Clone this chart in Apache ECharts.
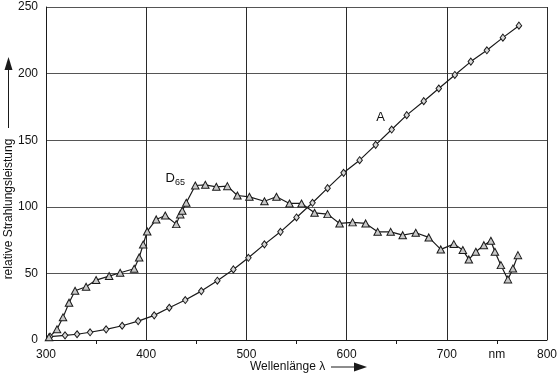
<!DOCTYPE html>
<html>
<head>
<meta charset="utf-8">
<script src="https://cdn.jsdelivr.net/npm/echarts@6/dist/echarts.min.js"></script>
<style>html,body{margin:0;padding:0;background:#fff}#c{width:560px;height:379px}</style>
</head>
<body>
<div id="c"></div>
<script>
// Illuminant A (diamonds)
const aWave = [304, 319, 331, 344, 360, 376, 392, 408, 423, 439, 455, 471, 487, 502, 518, 534, 550, 566, 581, 597, 613, 629, 645, 660, 677, 692, 708, 724, 740, 756, 772];
const aValue = [2.5, 3.5, 4.3, 5.8, 8, 10.7, 14.2, 18.5, 24.2, 30, 36.7, 44.5, 53, 61.7, 71.8, 81.2, 92, 103, 114, 125.5, 135, 146.5, 158, 168.8, 179.3, 188.8, 199, 209, 217.5, 227, 236];
// Illuminant D65 (triangles)
const dWave = [303, 311, 317, 323, 329, 340, 350, 363, 374, 388, 393, 397, 401, 410, 419, 430, 434, 436, 440, 449, 459, 470, 481, 491, 503, 518, 530, 543, 555, 568, 581, 593, 606, 619, 631, 644, 656, 669, 682, 694, 707, 716, 722, 729, 737, 744, 748, 754, 761, 766, 771];
const dValue = [2, 8, 17, 28, 37, 40, 45, 48, 50.5, 53.5, 62, 71.7, 81.5, 90.5, 93.5, 87, 94.3, 97, 103, 116, 116.5, 115, 115.5, 108.5, 107.5, 104.2, 107.5, 102.5, 102.5, 95.5, 94.5, 87.5, 88.3, 87.5, 81.2, 81.2, 78.7, 80.5, 77, 68, 72, 67.5, 60.5, 66.2, 71.2, 74.5, 66.2, 56.2, 45.5, 53.7, 63.7];
const yTicks = [0, 50, 100, 150, 200, 250];
const xTicks = [300, 400, 500, 600, 700, 800];
const unitLabel = 'nm';
const labelA = 'A';
const labelD = 'D';
const labelDsub = '65';
const labelAPos = [634, 167];
const labelDPos = [429, 121];
const xTitle = 'Wellenlänge λ';
const yTitle = 'relative Strahlungsleistung';

const FONT = '"Liberation Sans", Arial, sans-serif';
const ink = '#1a1a1a';
const chart = echarts.init(document.getElementById('c'), null, {renderer: 'canvas'});

const zip = (xs, ys) => xs.map((x, i) => [x, ys[i]]);

chart.setOption({
  animation: false,
  backgroundColor: '#fff',
  textStyle: {fontFamily: FONT},
  grid: {left: 46, right: 10, top: 7, bottom: 39, containLabel: false},
  xAxis: [{
    type: 'value', min: xTicks[0], max: xTicks[xTicks.length - 1], interval: 100,
    axisLine: {show: true, lineStyle: {color: ink, width: 1}},
    axisTick: {show: false},
    minorTick: {show: true, splitNumber: 2, length: 4, lineStyle: {color: ink, width: 1}},
    splitLine: {show: true, lineStyle: {color: '#2a2a2a', width: 1}},
    axisLabel: {color: '#111', fontSize: 12, margin: 9, fontFamily: FONT}
  }, {
    type: 'value', min: xTicks[0], max: xTicks[xTicks.length - 1], interval: 50,
    position: 'bottom',
    axisLine: {show: false}, axisTick: {show: false}, splitLine: {show: false},
    axisLabel: {color: '#111', fontSize: 12, margin: 9, fontFamily: FONT,
      formatter: v => (v === 750 ? unitLabel : '')}
  }],
  yAxis: {
    type: 'value', min: yTicks[0], max: yTicks[yTicks.length - 1], interval: 50,
    axisLine: {show: true, lineStyle: {color: ink, width: 1}},
    axisTick: {show: false},
    splitLine: {show: true, lineStyle: {color: '#555', width: 1}},
    axisLabel: {color: '#111', fontSize: 12, margin: 8, fontFamily: FONT}
  },
  series: [{
    name: 'A', type: 'line', xAxisIndex: 0,
    data: zip(aWave, aValue),
    symbol: 'diamond', symbolSize: [5.5, 7], showAllSymbol: true,
    lineStyle: {color: ink, width: 1.2},
    itemStyle: {color: '#d8d8d8', borderColor: ink, borderWidth: 1},
    markPoint: {
      symbol: 'circle', symbolSize: 0, silent: true,
      data: [{coord: labelAPos, value: labelA}],
      label: {show: true, position: 'inside', formatter: labelA, color: '#111', fontSize: 13, fontFamily: FONT}
    }
  }, {
    name: 'D65', type: 'line', xAxisIndex: 0,
    data: zip(dWave, dValue),
    symbol: 'triangle', symbolSize: [7.5, 7], showAllSymbol: true,
    lineStyle: {color: ink, width: 1.2},
    itemStyle: {color: '#c8c8c8', borderColor: ink, borderWidth: 1},
    z: 3,
    markPoint: {
      symbol: 'circle', symbolSize: 0, silent: true,
      data: [{coord: labelDPos, value: 0}],
      label: {show: true, position: 'inside',
        formatter: '{a|' + labelD + '}{b|' + labelDsub + '}',
        rich: {
          a: {fontSize: 13, color: '#111', fontFamily: FONT, lineHeight: 16, verticalAlign: 'middle'},
          b: {fontSize: 9, color: '#111', fontFamily: FONT, lineHeight: 10, verticalAlign: 'bottom'}
        }
      }
    }
  }],
  graphic: [
    {type: 'text', x: 8.5, y: 209, rotation: Math.PI / 2,
      style: {text: yTitle, fontSize: 12, fontFamily: FONT, fill: '#111', align: 'center', verticalAlign: 'middle'}},
    {type: 'line', shape: {x1: 8.5, y1: 128, x2: 8.5, y2: 68}, style: {stroke: ink, lineWidth: 1}},
    {type: 'polygon', shape: {points: [[8.5, 57], [4.5, 70], [12.5, 70]]}, style: {fill: ink}},
    {type: 'text', x: 250, y: 367,
      style: {text: xTitle, fontSize: 12, fontFamily: FONT, fill: '#111', align: 'left', verticalAlign: 'middle'}},
    {type: 'line', shape: {x1: 331, y1: 367, x2: 356, y2: 367}, style: {stroke: ink, lineWidth: 1}},
    {type: 'polygon', shape: {points: [[354, 362.5], [367, 367], [354, 371.5]]}, style: {fill: ink}}
  ]
});
</script>
</body>
</html>
